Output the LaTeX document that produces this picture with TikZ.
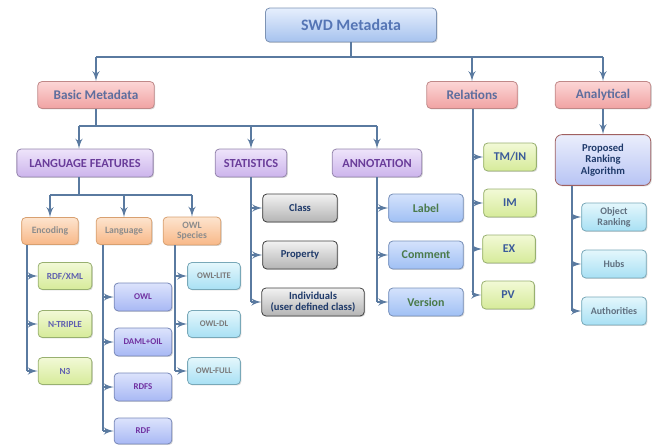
\documentclass[tikz,border=0pt]{standalone}
\usepackage{fontspec}
\setmainfont{Carlito}
\usepackage{tikz}
\usetikzlibrary{arrows}
\usetikzlibrary{shadows}

% Colours
\definecolor{linkc}{HTML}{5A7AA0}
\definecolor{swdtop}{HTML}{E6EFFD}\definecolor{swdbot}{HTML}{A6C2EE}\definecolor{swdline}{HTML}{7D93B4}\definecolor{swdtext}{HTML}{5575B5}
\definecolor{redtop}{HTML}{FCD6D6}\definecolor{redbot}{HTML}{F0A2A2}\definecolor{redline}{HTML}{C08888}\definecolor{redtext}{HTML}{5E6E9E}
\definecolor{purtop}{HTML}{EEE4FA}\definecolor{purbot}{HTML}{CCB4EC}\definecolor{purline}{HTML}{9484AC}\definecolor{purtext}{HTML}{6A3D9A}
\definecolor{ortop}{HTML}{FDE4CE}\definecolor{orbot}{HTML}{F8B888}\definecolor{orline}{HTML}{D8A070}\definecolor{ortext}{HTML}{8C8C8C}
\definecolor{grtop}{HTML}{F2F9D6}\definecolor{grbot}{HTML}{D6EB9A}\definecolor{grline}{HTML}{98B070}\definecolor{grtext}{HTML}{6060B0}
\definecolor{bltop}{HTML}{DCE3FC}\definecolor{blbot}{HTML}{A8B8F4}\definecolor{blline}{HTML}{7888B8}\definecolor{bltext}{HTML}{7030A0}
\definecolor{cytop}{HTML}{E4F7FC}\definecolor{cybot}{HTML}{A8E0F4}\definecolor{cyline}{HTML}{78A8B8}\definecolor{cytext}{HTML}{7A7A7A}
\definecolor{gytop}{HTML}{F2F2F2}\definecolor{gybot}{HTML}{B4B4B4}\definecolor{gyline}{HTML}{404040}\definecolor{gytext}{HTML}{1F3A6A}
\definecolor{lbtop}{HTML}{D4E2FC}\definecolor{lbbot}{HTML}{A0C0F4}\definecolor{lbline}{HTML}{7890B8}\definecolor{lbtext}{HTML}{4A7A4A}
\definecolor{rltext}{HTML}{3A5A9A}
\definecolor{prtop}{HTML}{EAEEFC}\definecolor{prbot}{HTML}{B8C4F4}\definecolor{prline}{HTML}{A06060}
\definecolor{obtext}{HTML}{607080}

\tikzset{
  box/.style={draw, rounded corners=3pt, line width=0.6pt, align=center, inner sep=1pt,
    drop shadow={shadow xshift=0.8pt, shadow yshift=-0.8pt, opacity=0.3}},
  sz/.style 2 args={minimum width=#1*0.75pt, minimum height=#2*0.75pt},
  fs/.style={font=\bfseries\fontsize{#1pt}{\dimexpr #1pt*11/10\relax}\selectfont},
  swdbox/.style={box, fs=12, top color=swdtop, bottom color=swdbot, draw=swdline, text=swdtext},
  redbox/.style={box, fs=10, top color=redtop, bottom color=redbot, draw=redline, text=redtext},
  purbox/.style={box, fs=9.3, top color=purtop, bottom color=purbot, draw=purline, text=purtext},
  orbox/.style={box, fs=7.3, top color=ortop, bottom color=orbot, draw=orline, text=ortext},
  grbox/.style={box, fs=7, top color=grtop, bottom color=grbot, draw=grline, text=grtext},
  blbox/.style={box, fs=6.7, top color=bltop, bottom color=blbot, draw=blline, text=bltext},
  cybox/.style={box, fs=6.5, top color=cytop, bottom color=cybot, draw=cyline, text=cytext},
  gybox/.style={box, fs=8, top color=gytop, bottom color=gybot, draw=gyline, text=gytext},
  lbbox/.style={box, fs=9, top color=lbtop, bottom color=lbbot, draw=lbline, text=lbtext},
  rlbox/.style={box, fs=9, top color=grtop, bottom color=grbot, draw=grline, text=rltext},
  prbox/.style={box, fs=8, rounded corners=5pt, top color=prtop, bottom color=prbot, draw=prline, text=gytext},
  obbox/.style={box, fs=7.5, top color=cytop, bottom color=cybot, draw=cyline, text=obtext},
  link/.style={draw=linkc, line width=1.6pt},
  arr/.style={link, -latex'},
}

\begin{document}
\begin{tikzpicture}[x=0.0265cm, y=-0.0265cm]
  % Constants
  \pgfmathsetmacro\ya{57}
  \pgfmathsetmacro\yb{126}
  \pgfmathsetmacro\yc{195}
  % Boundary
  \path[use as bounding box] (0,0) rectangle (653,445);
  % Top levels
  \node[swdbox, sz={172}{34}] (swd) at (351,25) {SWD Metadata};
  \node[redbox, sz={117}{27}] (basic) at (96,95) {Basic Metadata};
  \node[redbox, sz={91}{27}] (relat) at (472,95) {Relations};
  \node[redbox, sz={96}{27}] (analyt) at (603,95) {Analytical};
  \node[purbox, sz={137}{28}] (langf) at (85,163) {LANGUAGE FEATURES};
  \node[purbox, sz={72}{28}] (stats) at (251,163) {STATISTICS};
  \node[purbox, sz={90}{28}] (annot) at (377,163) {ANNOTATION};
  % Language features
  \node[orbox, sz={57}{27}] (enc) at (50,231) {Encoding};
  \node[orbox, sz={56}{27}] (lang) at (124,231) {Language};
  \node[orbox, sz={58}{28}] (owlsp) at (192,231) {OWL\\Species};
  \node[grbox, sz={54}{27}] (rdfxml) at (65,276) {RDF/XML};
  \node[grbox, sz={54}{27}] (ntriple) at (65,324) {N-TRIPLE};
  \node[grbox, sz={54}{27}] (nthree) at (65,371) {N3};
  \node[blbox, sz={58}{28}] (owl) at (143,297) {OWL};
  \node[blbox, sz={58}{28}] (daml) at (143,342) {DAML+OIL};
  \node[blbox, sz={58}{28}] (rdfs) at (143,387) {RDFS};
  \node[blbox, sz={58}{26}] (rdf) at (143,431) {RDF};
  \node[cybox, sz={53}{27}] (owllite) at (214,276) {OWL-LITE};
  \node[cybox, sz={53}{27}] (owldl) at (214,324) {OWL-DL};
  \node[cybox, sz={53}{27}] (owlfull) at (214,371) {OWL-FULL};
  % Statistics and annotation
  \node[gybox, sz={75}{28}] (class) at (300,208) {Class};
  \node[gybox, sz={75}{28}] (prop) at (300,255) {Property};
  \node[gybox, sz={103}{28}] (indiv) at (313,302) {Individuals\\(user defined class)};
  \node[lbbox, sz={75}{28}] (label) at (426,208) {Label};
  \node[lbbox, sz={75}{28}] (comment) at (426,255) {Comment};
  \node[lbbox, sz={75}{28}] (version) at (426,302) {Version};
  % Relations and analytical
  \node[rlbox, sz={53}{28}] (tmin) at (510,157) {TM/IN};
  \node[rlbox, sz={53}{28}] (im) at (510,203) {IM};
  \node[rlbox, sz={53}{28}] (ex) at (509,249) {EX};
  \node[rlbox, sz={53}{28}] (pv) at (508,295) {PV};
  \node[prbox, sz={96}{51}] (proposed) at (603,160) {Proposed\\Ranking\\Algorithm};
  \node[obbox, sz={65}{28}] (objrank) at (614,217) {Object\\Ranking};
  \node[obbox, sz={65}{28}] (hubs) at (614,264) {Hubs};
  \node[obbox, sz={65}{28}] (auth) at (614,311) {Authorities};
  % Bus lines
  \coordinate (topbus) at (351,\ya);
  \coordinate (basicbus) at (96,\yb);
  \coordinate (langbus) at (79,\yc);
  \coordinate (encx) at (27,0);
  \coordinate (langx) at (103,0);
  \coordinate (owlx) at (175,0);
  \coordinate (statx) at (251,0);
  \coordinate (annx) at (377,0);
  \coordinate (relx) at (473,0);
  \coordinate (propx) at (572,0);
  \draw[link] (swd) -- (topbus);
  \draw[link] (basic |- topbus) -- (analyt |- topbus);
  \foreach \n in {basic,relat,analyt} \draw[arr] (\n |- topbus) -- (\n);
  \draw[link] (basic) -- (basicbus);
  \draw[link] (langbus |- basicbus) -- (annot |- basicbus);
  \draw[arr] (langbus |- basicbus) -- (langbus |- langf.north);
  \foreach \n in {stats,annot} \draw[arr] (\n |- basicbus) -- (\n);
  \draw[link] (langf.south -| langbus) -- (langbus);
  \draw[link] (enc |- langbus) -- (owlsp |- langbus);
  \foreach \n in {enc,lang,owlsp} \draw[arr] (\n |- langbus) -- (\n);
  % Side branches
  \draw[link] (enc.south -| encx) -- (encx |- nthree);
  \foreach \n in {rdfxml,ntriple,nthree} \draw[arr] (encx |- \n) -- (\n);
  \draw[link] (lang.south -| langx) -- (langx |- rdf);
  \foreach \n in {owl,daml,rdfs,rdf} \draw[arr] (langx |- \n) -- (\n);
  \draw[link] (owlsp.south -| owlx) -- (owlx |- owlfull);
  \foreach \n in {owllite,owldl,owlfull} \draw[arr] (owlx |- \n) -- (\n);
  \draw[link] (stats.south -| statx) -- (statx |- indiv);
  \foreach \n in {class,prop,indiv} \draw[arr] (statx |- \n) -- (\n);
  \draw[link] (annot.south -| annx) -- (annx |- version);
  \foreach \n in {label,comment,version} \draw[arr] (annx |- \n) -- (\n);
  \draw[link] (relat.south -| relx) -- (relx |- pv);
  \foreach \n in {tmin,im,ex,pv} \draw[arr] (relx |- \n) -- (\n);
  \draw[arr] (analyt) -- (proposed);
  \draw[link] (proposed.south -| propx) -- (propx |- auth);
  \foreach \n in {objrank,hubs,auth} \draw[arr] (propx |- \n) -- (\n);
\end{tikzpicture}
\end{document}
